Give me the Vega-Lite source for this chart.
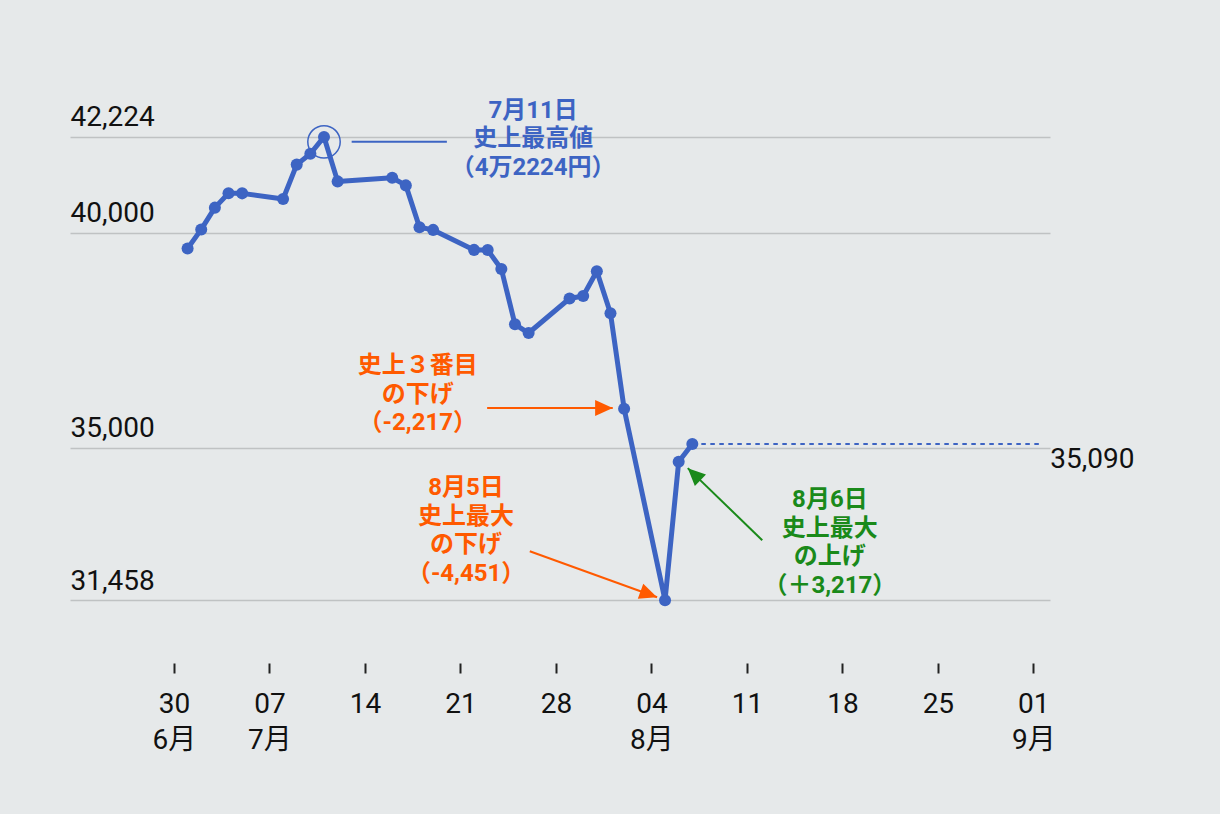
{
  "$schema": "https://vega.github.io/schema/vega-lite/v6.json",
  "width": 980,
  "height": 581,
  "autosize": {"type": "none"},
  "padding": {"left": 70, "top": 82, "right": 170, "bottom": 151},
  "background": "#e6e9ea",
  "config": {"view": {"stroke": null}},
  "datasets": {
    "nikkei": [
      {"date": "2024-07-01", "close": 39631.06},
      {"date": "2024-07-02", "close": 40074.69},
      {"date": "2024-07-03", "close": 40580.76},
      {"date": "2024-07-04", "close": 40913.65},
      {"date": "2024-07-05", "close": 40912.37},
      {"date": "2024-07-08", "close": 40780.70},
      {"date": "2024-07-09", "close": 41580.17},
      {"date": "2024-07-10", "close": 41831.99},
      {"date": "2024-07-11", "close": 42224.02},
      {"date": "2024-07-12", "close": 41190.68},
      {"date": "2024-07-16", "close": 41275.08},
      {"date": "2024-07-17", "close": 41097.69},
      {"date": "2024-07-18", "close": 40126.35},
      {"date": "2024-07-19", "close": 40063.79},
      {"date": "2024-07-22", "close": 39599.00},
      {"date": "2024-07-23", "close": 39594.39},
      {"date": "2024-07-24", "close": 39154.85},
      {"date": "2024-07-25", "close": 37869.51},
      {"date": "2024-07-26", "close": 37667.41},
      {"date": "2024-07-29", "close": 38468.63},
      {"date": "2024-07-30", "close": 38525.95},
      {"date": "2024-07-31", "close": 39101.82},
      {"date": "2024-08-01", "close": 38126.33},
      {"date": "2024-08-02", "close": 35909.70},
      {"date": "2024-08-05", "close": 31458.42},
      {"date": "2024-08-06", "close": 34675.46},
      {"date": "2024-08-07", "close": 35089.62}
    ],
    "peak": [
      {"date": "2024-07-11", "from": "2024-07-13T00:40:00Z", "to": "2024-07-20T00:10:00Z", "level": 42109}
    ],
    "lastClose": [
      {"start": "2024-08-07", "end": "2024-09-01T12:00:00Z", "value": 35090}
    ],
    "arrows": [
      {"id": "third", "kind": "drop", "start": "2024-07-22T23:00:00Z", "tip": "2024-08-01T04:00:00Z", "from": 35923, "to": 35923},
      {"id": "worst", "kind": "drop", "start": "2024-07-26T02:00:00Z", "tip": "2024-08-04T10:00:00Z", "from": 32598, "to": 31528},
      {"id": "best", "kind": "rise", "start": "2024-08-12T03:00:00Z", "tip": "2024-08-06T16:00:00Z", "from": 32853, "to": 34528}
    ],
    "notes": [
      {"kind": "high", "date": "2024-07-26T08:00:00Z", "level": 42830, "text": "7月11日\n史上最高値\n（4万2224円）"},
      {"kind": "drop", "date": "2024-07-17T21:00:00Z", "level": 36900, "text": "史上３番目\nの下げ\n（-2,217）"},
      {"kind": "drop", "date": "2024-07-21T10:00:00Z", "level": 34063, "text": "8月5日\n史上最大\nの下げ\n（-4,451）"},
      {"kind": "rise", "date": "2024-08-17T02:00:00Z", "level": 33784, "text": "8月6日\n史上最大\nの上げ\n（＋3,217）"}
    ]
  },
  "layer": [
    {
      "data": {"name": "nikkei"},
      "mark": {"type": "line", "color": "#3d64c3", "strokeWidth": 5, "strokeJoin": "round"},
      "encoding": {
        "x": {
          "field": "date",
          "type": "temporal",
          "title": null,
          "scale": {"type": "utc", "domain": [1719047232000, 1725254208000]},
          "axis": {
            "title": null,
            "values": [1719705600000, 1720310400000, 1720915200000, 1721520000000, 1722124800000, 1722729600000, 1723334400000, 1723939200000, 1724544000000, 1725148800000],
            "labelExpr": "(utcdate(datum.value) <= 7 || utcdate(datum.value) == 30) ? [utcFormat(datum.value, '%d'), (utcmonth(datum.value) + 1) + '月'] : utcFormat(datum.value, '%d')",
            "domain": false,
            "grid": false,
            "ticks": true,
            "tickSize": 10,
            "tickWidth": 2,
            "tickColor": "#222222",
            "labelFont": "Roboto, Noto Sans CJK JP, sans-serif",
            "labelFontSize": 28,
            "labelColor": "#111111",
            "labelAlign": "center",
            "labelBaseline": "top",
            "labelPadding": 17,
            "labelLineHeight": 36,
            "labelFlush": false,
            "labelOverlap": false,
            "labelBound": false
          }
        },
        "y": {
          "field": "close",
          "type": "quantitative",
          "title": null,
          "scale": {"domain": [30000, 43500], "nice": false, "zero": false},
          "axis": {
            "title": null,
            "values": [31458, 35000, 40000, 42224],
            "format": ",d",
            "domain": false,
            "ticks": false,
            "tickSize": 0,
            "grid": true,
            "gridColor": "#bfc2c3",
            "gridWidth": 1.5,
            "labelFont": "Roboto, sans-serif",
            "labelFontSize": 28,
            "labelColor": "#111111",
            "labelAlign": "left",
            "labelBaseline": "alphabetic",
            "labelPadding": 0,
            "labelOffset": -11,
            "labelFlush": false,
            "labelOverlap": false,
            "labelBound": false
          }
        }
      }
    },
    {
      "data": {"name": "lastClose"},
      "mark": {"type": "rule", "color": "#3d64c3", "strokeWidth": 2, "strokeDash": [4.5, 4.5]},
      "encoding": {
        "x": {"field": "start", "type": "temporal", "title": null},
        "x2": {"field": "end"},
        "y": {"field": "value", "type": "quantitative", "title": null}
      }
    },
    {
      "data": {"name": "nikkei"},
      "mark": {"type": "point", "filled": true, "opacity": 1, "color": "#3d64c3", "size": 145},
      "encoding": {
        "x": {"field": "date", "type": "temporal", "title": null},
        "y": {"field": "close", "type": "quantitative", "title": null}
      }
    },
    {
      "data": {"name": "peak"},
      "mark": {"type": "point", "filled": false, "shape": "circle", "color": "#3d64c3", "strokeWidth": 1.5, "size": 1052, "opacity": 1},
      "encoding": {
        "x": {"field": "date", "type": "temporal", "title": null},
        "y": {"field": "level", "type": "quantitative", "title": null}
      }
    },
    {
      "data": {"name": "peak"},
      "mark": {"type": "rule", "color": "#3d64c3", "strokeWidth": 2},
      "encoding": {
        "x": {"field": "from", "type": "temporal", "title": null},
        "x2": {"field": "to"},
        "y": {"field": "level", "type": "quantitative", "title": null}
      }
    },
    {
      "data": {"name": "arrows"},
      "mark": {"type": "rule", "strokeWidth": 2},
      "encoding": {
        "x": {"field": "start", "type": "temporal", "title": null},
        "x2": {"field": "tip"},
        "y": {"field": "from", "type": "quantitative", "title": null},
        "y2": {"field": "to"},
        "color": {"field": "kind", "type": "nominal", "scale": {"domain": ["high", "drop", "rise"], "range": ["#3d64c3", "#ff5a00", "#1a8a1a"]}, "legend": null}
      }
    },
    {
      "data": {"name": "arrows"},
      "transform": [{"filter": "datum.id == 'third'"}],
      "mark": {"type": "point", "filled": true, "opacity": 1, "shape": "M0,0L-2.2,-1L-2.2,1Z", "size": 256, "angle": 0},
      "encoding": {
        "x": {"field": "tip", "type": "temporal", "title": null},
        "y": {"field": "to", "type": "quantitative", "title": null},
        "color": {"field": "kind", "type": "nominal", "legend": null}
      }
    },
    {
      "data": {"name": "arrows"},
      "transform": [{"filter": "datum.id == 'worst'"}],
      "mark": {"type": "point", "filled": true, "opacity": 1, "shape": "M0,0L-2.2,-1L-2.2,1Z", "size": 256, "angle": 20},
      "encoding": {
        "x": {"field": "tip", "type": "temporal", "title": null},
        "y": {"field": "to", "type": "quantitative", "title": null},
        "color": {"field": "kind", "type": "nominal", "legend": null}
      }
    },
    {
      "data": {"name": "arrows"},
      "transform": [{"filter": "datum.id == 'best'"}],
      "mark": {"type": "point", "filled": true, "opacity": 1, "shape": "M0,0L-2.2,-1L-2.2,1Z", "size": 256, "angle": 224},
      "encoding": {
        "x": {"field": "tip", "type": "temporal", "title": null},
        "y": {"field": "to", "type": "quantitative", "title": null},
        "color": {"field": "kind", "type": "nominal", "legend": null}
      }
    },
    {
      "data": {"name": "notes"},
      "mark": {"type": "text", "align": "center", "baseline": "middle", "lineBreak": "\n", "lineHeight": 28.5, "font": "Roboto, Noto Sans CJK JP, sans-serif", "fontSize": 24, "fontWeight": "bold"},
      "encoding": {
        "x": {"field": "date", "type": "temporal", "title": null},
        "y": {"field": "level", "type": "quantitative", "title": null},
        "text": {"field": "text", "type": "nominal"},
        "color": {"field": "kind", "type": "nominal", "legend": null}
      }
    },
    {
      "data": {"name": "lastClose"},
      "mark": {"type": "text", "align": "left", "baseline": "top", "dx": 10, "dy": 2, "font": "Roboto, sans-serif", "fontSize": 28, "color": "#111111"},
      "encoding": {
        "x": {"field": "end", "type": "temporal", "title": null},
        "y": {"field": "value", "type": "quantitative", "title": null},
        "text": {"field": "value", "type": "quantitative", "format": ","}
      }
    }
  ]
}
